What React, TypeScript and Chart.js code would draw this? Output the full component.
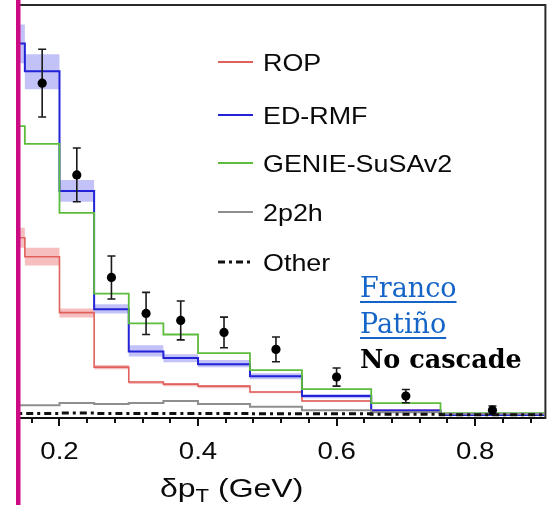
import React, { useEffect, useRef } from 'react';
import { Chart, registerables } from 'chart.js';

Chart.register(...registerables);

// ---- data (y in arbitrary cross-section units) ----
const binEdges = [0.1, 0.15, 0.2, 0.25, 0.3, 0.35, 0.4, 0.475, 0.55, 0.65, 0.75, 0.9];

const ropValues = [4.36, 3.9, 2.55, 1.23, 0.87, 0.82, 0.77, 0.63, 0.41, 0.18, 0.1];
const ropBandHigh = [4.6, 4.12, 2.65, 1.28, 0.89, 0.84, 0.8, 0.65, 0.43, 0.21, 0.12];
const ropBandLow = [4.12, 3.69, 2.43, 1.18, 0.82, 0.77, 0.72, 0.6, 0.39, 0.15, 0.07];

const edrmfValues = [9.06, 8.39, 5.49, 2.63, 1.61, 1.45, 1.3, 1.01, 0.53, 0.18, 0.07];
const edrmfBandHigh = [9.52, 8.8, 5.76, 2.75, 1.76, 1.54, 1.4, 1.08, 0.58, 0.21, 0.1];
const edrmfBandLow = [8.58, 7.95, 5.23, 2.53, 1.49, 1.35, 1.23, 0.94, 0.48, 0.15, 0.05];

const genieValues = [7.06, 6.63, 4.96, 3.01, 2.29, 2.02, 1.57, 1.16, 0.7, 0.36, 0.12];
const twoP2hValues = [0.31, 0.31, 0.36, 0.34, 0.36, 0.41, 0.34, 0.27, 0.19, 0.14, 0.1];
const otherValues = [0.11, 0.11, 0.12, 0.11, 0.11, 0.11, 0.11, 0.1, 0.1, 0.09, 0.08];

const dataX = [0.175, 0.225, 0.275, 0.325, 0.375, 0.4375, 0.5125, 0.6, 0.7, 0.825];
const dataY = [8.1, 5.88, 3.4, 2.53, 2.36, 2.07, 1.66, 0.99, 0.53, 0.19];
const dataErr = [0.82, 0.65, 0.52, 0.51, 0.47, 0.37, 0.3, 0.22, 0.16, 0.1];

const majorTicks = [0.2, 0.4, 0.6, 0.8];
const tickLabels = ['0.2', '0.4', '0.6', '0.8'];
const minorTicks = [0.16, 0.24, 0.28, 0.32, 0.36, 0.44, 0.48, 0.52, 0.56, 0.64, 0.68, 0.72, 0.76, 0.84, 0.88];

const legendNames = ['ROP', 'ED-RMF', 'GENIE-SuSAv2', '2p2h', 'Other'];
const annotationLink = ['Franco', 'Patiño'];
const annotationNote = 'No cascade';

const C_ROP = '#e0605c';
const C_EDRMF = '#2222d6';
const C_GENIE = '#5cbc3c';
const C_2P2H = '#8e8e8e';
const C_OTHER = '#111111';
const C_ROP_BAND = 'rgba(236,110,110,0.45)';
const C_EDRMF_BAND = 'rgba(110,110,238,0.42)';
const legendColors = [C_ROP, C_EDRMF, C_GENIE, C_2P2H, C_OTHER];
const OTHER_DASH = [7, 4, 3, 4];

const SANS = '"Liberation Sans", Arial, Helvetica, sans-serif';
const SERIF = '"DejaVu Serif", "Liberation Serif", serif';

function steps(values: number[]) {
  return binEdges.map((x, i) => ({ x, y: values[Math.min(i, values.length - 1)] }));
}

function stretchedText(ctx: CanvasRenderingContext2D, text: string, x: number, y: number, sx: number, align: CanvasTextAlign) {
  ctx.save();
  ctx.translate(x, y);
  ctx.scale(sx, 1);
  ctx.textAlign = align;
  ctx.textBaseline = 'alphabetic';
  ctx.fillText(text, 0, 0);
  ctx.restore();
}

const decorPlugin = {
  id: 'decor',
  beforeDatasetDraw(chart: any, args: any) {
    if (args.index !== 0) return;
    const { ctx, scales } = chart;
    const xs = scales.x;
    const ys = scales.y;
    ctx.save();
    ctx.strokeStyle = '#1a1a1a';
    ctx.lineWidth = 1.6;
    dataX.forEach((xv, i) => {
      const px = xs.getPixelForValue(xv);
      const top = ys.getPixelForValue(dataY[i] + dataErr[i]);
      const bot = ys.getPixelForValue(dataY[i] - dataErr[i]);
      ctx.beginPath();
      ctx.moveTo(px, top);
      ctx.lineTo(px, bot);
      ctx.moveTo(px - 4, top);
      ctx.lineTo(px + 4, top);
      ctx.moveTo(px - 4, bot);
      ctx.lineTo(px + 4, bot);
      ctx.stroke();
    });
    ctx.restore();
  },
  afterDraw(chart: any) {
    const { ctx, scales, chartArea } = chart;
    const xs = scales.x;
    const axisY = chartArea.bottom + 1;
    ctx.save();

    // frame (top and right)
    ctx.strokeStyle = '#2a2a2a';
    ctx.lineWidth = 2;
    ctx.beginPath();
    ctx.moveTo(chartArea.left, chartArea.top + 0.5);
    ctx.lineTo(chartArea.right + 1, chartArea.top + 0.5);
    ctx.lineTo(chartArea.right + 1, axisY);
    ctx.stroke();

    // tick marks
    ctx.strokeStyle = '#111';
    ctx.lineWidth = 2;
    ctx.beginPath();
    majorTicks.forEach((v) => {
      const px = Math.round(xs.getPixelForValue(v));
      ctx.moveTo(px, axisY);
      ctx.lineTo(px, axisY + 7);
    });
    minorTicks.forEach((v) => {
      const px = Math.round(xs.getPixelForValue(v));
      ctx.moveTo(px, axisY);
      ctx.lineTo(px, axisY + 4);
    });
    ctx.stroke();

    // tick labels
    ctx.fillStyle = '#0a0a0a';
    ctx.font = `24px ${SANS}`;
    majorTicks.forEach((v, i) => {
      stretchedText(ctx, tickLabels[i], xs.getPixelForValue(v), 459, 1.15, 'center');
    });

    // axis title  δp_T (GeV)
    ctx.save();
    ctx.translate(160, 497);
    ctx.scale(1.23, 1);
    ctx.textAlign = 'left';
    ctx.font = `26px ${SANS}`;
    let cx = 0;
    ctx.fillText('δp', cx, 0);
    cx += ctx.measureText('δp').width;
    ctx.font = `18px ${SANS}`;
    ctx.fillText('T', cx, 5);
    cx += ctx.measureText('T').width;
    ctx.font = `26px ${SANS}`;
    ctx.fillText(' (GeV)', cx, 0);
    ctx.restore();

    // legend
    const rowY = [62, 115, 163, 212, 262];
    legendNames.forEach((name, i) => {
      const y = rowY[i];
      ctx.save();
      ctx.strokeStyle = legendColors[i];
      ctx.lineWidth = i === 4 ? 3 : 2;
      if (i === 4) ctx.setLineDash(OTHER_DASH);
      ctx.beginPath();
      ctx.moveTo(218, y);
      ctx.lineTo(253, y);
      ctx.stroke();
      ctx.restore();
      ctx.fillStyle = '#0a0a0a';
      ctx.font = `24px ${SANS}`;
      stretchedText(ctx, name, 263, y + 8.5, 1.12, 'left');
    });

    // annotation
    ctx.font = `27px ${SERIF}`;
    ctx.textAlign = 'left';
    ctx.fillStyle = '#1565c8';
    ctx.strokeStyle = '#1565c8';
    ctx.lineWidth = 1.8;
    const linkBase = [297, 333];
    annotationLink.forEach((t, i) => {
      ctx.fillText(t, 360, linkBase[i]);
      const w = ctx.measureText(t).width;
      ctx.beginPath();
      ctx.moveTo(360, linkBase[i] + 5);
      ctx.lineTo(360 + w, linkBase[i] + 5);
      ctx.stroke();
    });
    ctx.fillStyle = '#000';
    ctx.font = `bold 25.5px ${SERIF}`;
    ctx.fillText(annotationNote, 360, 368);

    // magenta slide bar
    ctx.fillStyle = '#cc0a84';
    ctx.fillRect(16, 0, 4.5, 505);
    ctx.restore();
  },
};

export default function App() {
  const ref = useRef<HTMLCanvasElement | null>(null);
  useEffect(() => {
    if (!ref.current) return;
    const line = (label: string, values: number[], color: string, order: number, extra: any = {}) => ({
      label,
      data: steps(values),
      borderColor: color,
      borderWidth: 2,
      pointRadius: 0,
      stepped: 'before',
      fill: false,
      order,
      ...extra,
    });
    const band = (values: number[], color: string, order: number, fill: any) => ({
      label: 'band',
      data: steps(values),
      borderColor: 'rgba(0,0,0,0)',
      borderWidth: 0,
      pointRadius: 0,
      stepped: 'before',
      backgroundColor: color,
      fill,
      order,
    });
    const chart = new Chart(ref.current, {
      type: 'line',
      data: {
        datasets: [
          {
            label: 'Data',
            data: dataX.map((x, i) => ({ x, y: dataY[i] })),
            showLine: false,
            pointRadius: 4.6,
            pointBackgroundColor: '#000',
            pointBorderColor: '#000',
            pointBorderWidth: 0,
            order: 0,
          },
          line('Other', otherValues, C_OTHER, 1, { borderDash: OTHER_DASH, borderWidth: 3 }),
          line('2p2h', twoP2hValues, C_2P2H, 2),
          line('GENIE-SuSAv2', genieValues, C_GENIE, 3, { borderWidth: 1.8 }),
          line('ED-RMF', edrmfValues, C_EDRMF, 4),
          line('ROP', ropValues, C_ROP, 5, { borderWidth: 1.6 }),
          band(edrmfBandHigh, C_EDRMF_BAND, 6, '+1'),
          band(edrmfBandLow, 'rgba(0,0,0,0)', 6, false),
          band(ropBandHigh, C_ROP_BAND, 7, '+1'),
          band(ropBandLow, 'rgba(0,0,0,0)', 7, false),
        ] as any,
      },
      options: {
        responsive: false,
        animation: false,
        events: [],
        layout: { padding: { left: 20, right: 2, top: 3, bottom: 0 } },
        plugins: {
          legend: { display: false },
          tooltip: { enabled: false },
        },
        scales: {
          x: {
            type: 'linear',
            min: 0.143,
            max: 0.9,
            afterBuildTicks: (s: any) => {
              s.ticks = majorTicks.map((v) => ({ value: v }));
            },
            afterFit: (s: any) => {
              s.height = 87;
            },
            grid: { display: false, drawTicks: false },
            border: { display: true, color: '#111', width: 2 },
            ticks: { display: false },
          },
          y: {
            display: false,
            min: 0,
            max: 10,
          },
        },
      } as any,
      plugins: [decorPlugin],
    });
    return () => chart.destroy();
  }, []);
  return (
    <div style={{ position: 'fixed', left: 0, top: 0, width: 549, height: 505, background: '#fff' }}>
      <canvas ref={ref} width={549} height={505} style={{ display: 'block' }} />
    </div>
  );
}
